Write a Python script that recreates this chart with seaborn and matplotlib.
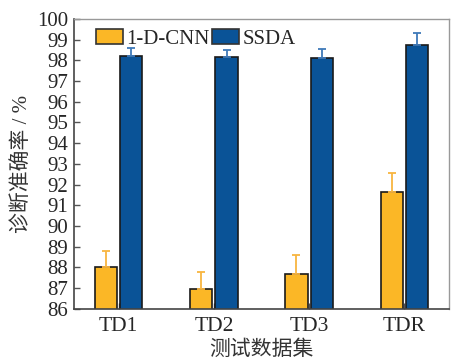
import matplotlib
matplotlib.use("Agg")
import matplotlib.pyplot as plt
import seaborn as sns
import pandas as pd
import numpy as np

# Test datasets and diagnosis accuracy (%) for both models
datasets = ["TD1", "TD2", "TD3", "TDR"]
cnn_acc = [88.0, 86.95, 87.7, 91.65]
ssda_acc = [98.2, 98.15, 98.1, 98.75]
# upper error (standard deviation) for each model
cnn_err = [0.8, 0.85, 0.9, 0.9]
ssda_err = [0.4, 0.35, 0.45, 0.55]
models = ["1-D-CNN", "SSDA"]
y_ticks = list(range(86, 101))

sns.set_style("ticks")
plt.rcParams["font.family"] = ["Liberation Serif", "Noto Sans CJK SC"]
plt.rcParams["font.size"] = 15

colors = {"1-D-CNN": "#FBB726", "SSDA": "#0A5397"}
err_colors = {"1-D-CNN": "#F8B540", "SSDA": "#3F7AB9"}

df = pd.DataFrame({
    "dataset": datasets * 2,
    "model": [models[0]] * len(datasets) + [models[1]] * len(datasets),
    "acc": cnn_acc + ssda_acc,
})

fig = plt.figure(figsize=(4.51, 3.63), dpi=100)
ax = fig.add_axes([0.164, 0.149, 0.8316, 0.799])

sns.barplot(data=df, x="dataset", y="acc", hue="model", order=datasets,
            hue_order=models, palette=colors, saturation=1, errorbar=None,
            width=0.53, gap=0.12, edgecolor="#1a1a1a", linewidth=1.2,
            ax=ax, zorder=2)

# Upper-only error bars placed on the bar centres
for container, model, vals, errs in zip(ax.containers, models,
                                        [cnn_acc, ssda_acc], [cnn_err, ssda_err]):
    xs = [p.get_x() + p.get_width() / 2 for p in container.patches]
    ax.errorbar(xs, vals, yerr=[np.zeros(len(errs)), errs], fmt="none",
                ecolor=err_colors[model], elinewidth=1.3, capsize=3,
                capthick=1.3, zorder=3)

ax.set_ylim(86, 100)
ax.set_xlim(-0.47, 3.47)
ax.set_yticks(y_ticks)
ax.set_yticklabels([str(t) for t in y_ticks])
ax.tick_params(axis="both", direction="in", length=4, width=1,
               color="#555555", labelsize=15, pad=4)
ax.tick_params(axis="x", pad=6, labelsize=15.5)

ax.set_xlabel("测试数据集", fontsize=15, color="#333333", labelpad=3)
ax.set_ylabel("诊断准确率 / %", fontsize=15, color="#333333", labelpad=4)

for side in ["left", "bottom"]:
    ax.spines[side].set_color("#444444")
    ax.spines[side].set_linewidth(1.2)
for side in ["top", "right"]:
    ax.spines[side].set_visible(True)
    ax.spines[side].set_color("#999999")
    ax.spines[side].set_linewidth(1.0)

leg = ax.legend(loc="upper left", ncol=2, frameon=False, fontsize=15,
                handlelength=1.3, handleheight=0.7, handletextpad=0.15,
                columnspacing=0.15, borderaxespad=0.1,
                bbox_to_anchor=(0.03, 1.0))
for h in leg.legend_handles:
    h.set_edgecolor("#333333")

fig.savefig("out.png", dpi=100)
